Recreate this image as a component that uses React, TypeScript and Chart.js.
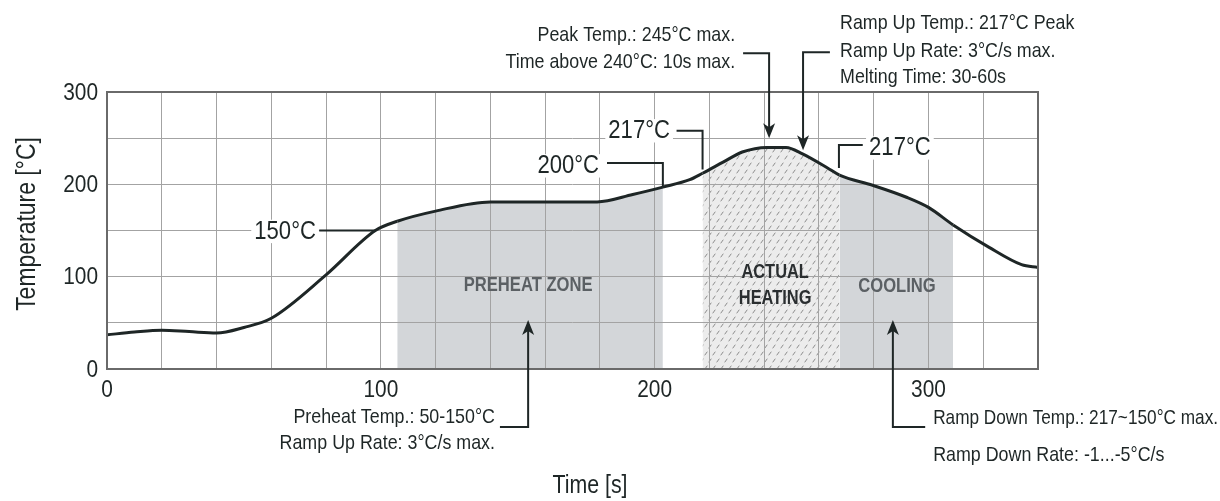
import React, { useEffect, useRef } from 'react';
import { Chart, registerables } from 'chart.js';

Chart.register(...registerables);

// ---- data ----
const timeS = [0, 10, 20, 30, 40, 50, 60, 80, 98, 106, 120, 140, 160, 179, 192, 203, 212.8, 217.5, 225, 232, 241, 248, 254, 263, 267.5, 279.6, 292, 300, 309, 322, 334, 340];
const tempC = [37, 40, 42, 40.5, 39, 45, 55, 102, 150, 160, 171, 181, 181, 181, 189, 197, 205, 212, 224, 235, 240, 240, 233, 218, 210, 199, 186, 175, 156, 132, 113, 110];

const xTickLabels = [0, 100, 200, 300];
const yTickLabels = [0, 100, 200, 300];

const preheatZone = [106, 203];
const heatingZone = [217.5, 267.5];
const coolingZone = [267.5, 309];

const zoneLabels = ['PREHEAT ZONE', 'ACTUAL', 'HEATING', 'COOLING'];

const FONT = "'Liberation Sans', Arial, sans-serif";
const INK = '#1e2626';
const ZONE_GRAY = '#d3d6d9';

function makeHatch(): CanvasPattern | string {
  const c = document.createElement('canvas');
  c.width = 8;
  c.height = 14;
  const g = c.getContext('2d');
  if (!g) return '#eeeeee';
  g.fillStyle = '#ececec';
  g.fillRect(0, 0, 8, 14);
  g.strokeStyle = '#8c8c8c';
  g.lineWidth = 1;
  const dash = (cx: number, cy: number) => {
    g.beginPath();
    g.moveTo(cx - 1.3, cy + 1.8);
    g.lineTo(cx + 1.3, cy - 1.8);
    g.stroke();
  };
  dash(2, 3.5);
  dash(6, 10.5);
  const p = g.createPattern(c, 'repeat');
  return p || '#eeeeee';
}

export default function App() {
  const ref = useRef<HTMLCanvasElement | null>(null);

  useEffect(() => {
    const canvas = ref.current;
    if (!canvas) return;
    const hatch = makeHatch();

    const annotations = {
      id: 'annotations',
      afterDraw(chart: any) {
        const ctx: CanvasRenderingContext2D = chart.ctx;
        const xs = chart.scales.x;
        const ys = chart.scales.y;
        const X = (t: number) => xs.getPixelForValue(t);
        const Y = (v: number) => ys.getPixelForValue(v);
        const area = chart.chartArea;

        ctx.save();
        // plot border
        ctx.strokeStyle = '#6a6a6a';
        ctx.lineWidth = 2;
        ctx.strokeRect(area.left, area.top, area.right - area.left, area.bottom - area.top);

        const text = (s: string, x: number, y: number, align: CanvasTextAlign, size: number, opts: any = {}) => {
          const sx = opts.sx || 0.85;
          ctx.save();
          ctx.font = `${opts.weight || 'normal'} ${size}px ${FONT}`;
          ctx.textAlign = align;
          ctx.textBaseline = 'middle';
          const w = ctx.measureText(s).width * sx;
          if (opts.bg) {
            let x0 = x;
            if (align === 'right') x0 = x - w;
            else if (align === 'center') x0 = x - w / 2;
            ctx.fillStyle = '#ffffff';
            ctx.fillRect(x0 - 3, y - size * 0.45, w + 6, size * 0.9);
          }
          ctx.translate(x, y);
          ctx.scale(sx, 1);
          ctx.fillStyle = opts.color || INK;
          ctx.fillText(s, 0, 0);
          ctx.restore();
        };

        const poly = (pts: number[][]) => {
          ctx.strokeStyle = INK;
          ctx.lineWidth = 2;
          ctx.lineJoin = 'miter';
          ctx.beginPath();
          pts.forEach((p, i) => (i === 0 ? ctx.moveTo(p[0], p[1]) : ctx.lineTo(p[0], p[1])));
          ctx.stroke();
        };

        const arrow = (x: number, y: number, dir: 'up' | 'down') => {
          const l = 15, w = 6;
          ctx.fillStyle = INK;
          ctx.beginPath();
          ctx.moveTo(x, y);
          if (dir === 'down') {
            ctx.lineTo(x - w, y - l);
            ctx.lineTo(x, y - l + 4);
            ctx.lineTo(x + w, y - l);
          } else {
            ctx.lineTo(x - w, y + l);
            ctx.lineTo(x, y + l - 4);
            ctx.lineTo(x + w, y + l);
          }
          ctx.closePath();
          ctx.fill();
        };

        // tick labels
        xTickLabels.forEach((v) => text(String(v), X(v), area.bottom + 21, 'center', 24, { sx: 0.87 }));
        yTickLabels.forEach((v) => text(String(v), area.left - 9, Y(v) + 1, 'right', 24, { sx: 0.87 }));

        // zone labels
        text(zoneLabels[0], X(153.8), Y(90), 'center', 20, { weight: 'bold', color: '#5b6064', sx: 0.83 });
        text(zoneLabels[1], X(244), Y(104), 'center', 20, { weight: 'bold', color: '#2a2e30', sx: 0.82 });
        text(zoneLabels[2], X(244), Y(76), 'center', 20, { weight: 'bold', color: '#2a2e30', sx: 0.82 });
        text(zoneLabels[3], X(288.5), Y(89), 'center', 20, { weight: 'bold', color: '#5b6064', sx: 0.83 });

        // 150°C
        poly([[X(77.5), Y(150)], [X(98), Y(150)]]);
        text('150°C', X(76.3), Y(149), 'right', 26, { bg: true });

        // 200°C
        poly([[X(182.6), Y(223)], [X(203), Y(223)], [X(203), Y(197)]]);
        text('200°C', X(179.7), Y(220), 'right', 26, { bg: true });

        // 217°C (rising)
        poly([[X(208), Y(258)], [X(217.5), Y(258)], [X(217.5), Y(216)]]);
        text('217°C', X(205.6), Y(258), 'right', 26, { bg: true });

        // Peak temp
        poly([[X(232.3), Y(342)], [X(241.8), Y(342)], [X(241.8), Y(256)]]);
        arrow(X(241.8), Y(250), 'down');
        text('Peak Temp.: 245°C max.', X(229.4), Y(361.7), 'right', 21);
        text('Time above 240°C: 10s max.', X(229.4), Y(332.5), 'right', 21);

        // Ramp up
        poly([[X(264), Y(343)], [X(254.2), Y(343)], [X(254.2), Y(243)]]);
        arrow(X(254.2), Y(237), 'down');
        text('Ramp Up Temp.: 217°C Peak', X(267.7), Y(374.7), 'left', 21);
        text('Ramp Up Rate: 3°C/s max.', X(267.7), Y(344.4), 'left', 21);
        text('Melting Time: 30-60s', X(267.7), Y(316.3), 'left', 21);

        // 217°C (falling)
        poly([[X(276), Y(242.6)], [X(267.3), Y(242.6)], [X(267.3), Y(217.7)]]);
        text('217°C', X(278.3), Y(239.4), 'left', 26, { bg: true });

        // Preheat
        poly([[X(143.5), Y(-62.8)], [X(153.8), Y(-62.8)], [X(153.8), Y(47)]]);
        arrow(X(153.8), Y(53), 'up');
        text('Preheat Temp.: 50-150°C', X(141.7), Y(-52), 'right', 21);
        text('Ramp Up Rate: 3°C/s max.', X(141.7), Y(-80), 'right', 21);

        // Cooling
        poly([[X(298.8), Y(-62.8)], [X(287), Y(-62.8)], [X(287), Y(47)]]);
        arrow(X(287), Y(53), 'up');
        text('Ramp Down Temp.: 217~150°C max.', X(301.7), Y(-53), 'left', 21, { sx: 0.82 });
        text('Ramp Down Rate: -1...-5°C/s', X(301.7), Y(-93), 'left', 21);

        // axis titles
        text('Time [s]', 590, 486, 'center', 26, { sx: 0.82 });
        ctx.save();
        ctx.translate(28, 224);
        ctx.rotate(-Math.PI / 2);
        text('Temperature [°C]', 0, 0, 'center', 27, { sx: 0.85 });
        ctx.restore();

        ctx.restore();
      },
    };

    const inZone = (a: number, b: number, z: number[]) => a >= z[0] - 1e-6 && b <= z[1] + 1e-6;

    const chart = new Chart(canvas, {
      type: 'line',
      data: {
        datasets: [
          {
            data: timeS.map((t, i) => ({ x: t, y: tempC[i] })),
            borderColor: INK,
            borderWidth: 3,
            pointRadius: 0,
            cubicInterpolationMode: 'monotone',
            fill: 'origin',
            backgroundColor: 'rgba(0,0,0,0)',
            segment: {
              backgroundColor: (c: any) => {
                const a = timeS[c.p0DataIndex];
                const b = timeS[c.p1DataIndex];
                if (inZone(a, b, preheatZone)) return ZONE_GRAY;
                if (inZone(a, b, heatingZone)) return hatch as any;
                if (inZone(a, b, coolingZone)) return ZONE_GRAY;
                return 'rgba(0,0,0,0)';
              },
            },
          } as any,
        ],
      },
      options: {
        animation: false,
        responsive: true,
        maintainAspectRatio: false,
        layout: { padding: { top: 92, right: 182, left: 0, bottom: 0 } },
        plugins: {
          legend: { display: false },
          tooltip: { enabled: false },
          filler: { drawTime: 'beforeDraw' } as any,
        },
        scales: {
          x: {
            type: 'linear',
            min: 0,
            max: 340,
            afterFit: (s: any) => { s.height = 132; },
            grid: { color: '#a3a3a3', lineWidth: 1, drawTicks: false },
            border: { display: false },
            ticks: { stepSize: 20, display: false, autoSkip: false },
          },
          y: {
            type: 'linear',
            min: 0,
            max: 300,
            afterFit: (s: any) => { s.width = 107; },
            grid: { color: '#a3a3a3', lineWidth: 1, drawTicks: false },
            border: { display: false },
            ticks: { stepSize: 50, display: false, autoSkip: false },
          },
        },
      },
      plugins: [annotations],
    });

    return () => chart.destroy();
  }, []);

  return (
    <div style={{ position: 'absolute', left: 0, top: 0, width: 1220, height: 501, background: '#ffffff' }}>
      <canvas ref={ref} />
    </div>
  );
}
